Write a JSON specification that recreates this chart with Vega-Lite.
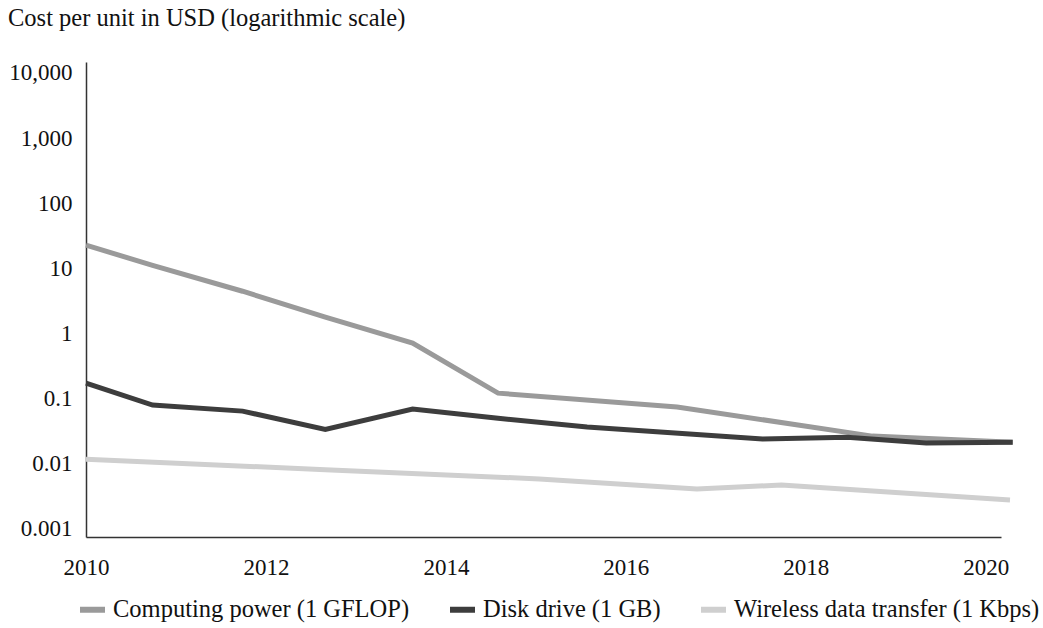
{
  "$schema": "https://vega.github.io/schema/vega-lite/v6.json",
  "width": 915,
  "height": 475,
  "autosize": {"type": "none"},
  "padding": {"left": 86, "top": 62, "right": 42, "bottom": 91},
  "background": "white",
  "title": {
    "text": "Cost per unit in USD (logarithmic scale)",
    "anchor": "start",
    "frame": "group",
    "dx": -78,
    "offset": 30,
    "font": "Liberation Serif",
    "fontSize": 24.5,
    "fontWeight": "normal",
    "color": "#111111"
  },
  "config": {
    "view": {"stroke": null},
    "font": "Liberation Serif"
  },
  "data": {
    "values": [
      {"year": 2010.0, "cost": 22.5, "series": "Computing power (1 GFLOP)"},
      {"year": 2010.74, "cost": 11, "series": "Computing power (1 GFLOP)"},
      {"year": 2011.74, "cost": 4.4, "series": "Computing power (1 GFLOP)"},
      {"year": 2012.66, "cost": 1.76, "series": "Computing power (1 GFLOP)"},
      {"year": 2013.63, "cost": 0.7, "series": "Computing power (1 GFLOP)"},
      {"year": 2014.58, "cost": 0.119, "series": "Computing power (1 GFLOP)"},
      {"year": 2016.57, "cost": 0.073, "series": "Computing power (1 GFLOP)"},
      {"year": 2018.74, "cost": 0.026, "series": "Computing power (1 GFLOP)"},
      {"year": 2020.3, "cost": 0.021, "series": "Computing power (1 GFLOP)"},
      {"year": 2010.0, "cost": 0.17, "series": "Disk drive (1 GB)"},
      {"year": 2010.74, "cost": 0.078, "series": "Disk drive (1 GB)"},
      {"year": 2011.74, "cost": 0.063, "series": "Disk drive (1 GB)"},
      {"year": 2012.66, "cost": 0.033, "series": "Disk drive (1 GB)"},
      {"year": 2013.63, "cost": 0.068, "series": "Disk drive (1 GB)"},
      {"year": 2014.58, "cost": 0.049, "series": "Disk drive (1 GB)"},
      {"year": 2015.57, "cost": 0.036, "series": "Disk drive (1 GB)"},
      {"year": 2017.52, "cost": 0.0234, "series": "Disk drive (1 GB)"},
      {"year": 2018.46, "cost": 0.025, "series": "Disk drive (1 GB)"},
      {"year": 2019.34, "cost": 0.0204, "series": "Disk drive (1 GB)"},
      {"year": 2020.3, "cost": 0.021, "series": "Disk drive (1 GB)"},
      {"year": 2010.0, "cost": 0.0115, "series": "Wireless data transfer (1 Kbps)"},
      {"year": 2012.66, "cost": 0.0079, "series": "Wireless data transfer (1 Kbps)"},
      {"year": 2015.04, "cost": 0.0057, "series": "Wireless data transfer (1 Kbps)"},
      {"year": 2016.79, "cost": 0.004, "series": "Wireless data transfer (1 Kbps)"},
      {"year": 2017.73, "cost": 0.0046, "series": "Wireless data transfer (1 Kbps)"},
      {"year": 2020.27, "cost": 0.0027, "series": "Wireless data transfer (1 Kbps)"}
    ]
  },
  "mark": {"type": "line", "strokeWidth": 5, "clip": false},
  "encoding": {
    "x": {
      "field": "year",
      "type": "quantitative",
      "scale": {"domain": [2010, 2020.17], "nice": false, "zero": false},
      "axis": {
        "title": null,
        "values": [2010, 2012, 2014, 2016, 2018, 2020],
        "format": "d",
        "grid": false,
        "ticks": false,
        "labelPadding": 19,
        "labelFont": "Liberation Serif",
        "labelFontSize": 23,
        "labelColor": "#111111",
        "domainColor": "#333333",
        "domainWidth": 1.5,
        "labelFlush": false
      }
    },
    "y": {
      "field": "cost",
      "type": "quantitative",
      "scale": {"type": "log", "domain": [0.00073, 14760], "nice": false},
      "axis": {
        "title": null,
        "values": [0.001, 0.01, 0.1, 1, 10, 100, 1000, 10000],
        "format": ",",
        "grid": false,
        "ticks": false,
        "labelPadding": 14,
        "labelFont": "Liberation Serif",
        "labelFontSize": 23,
        "labelColor": "#111111",
        "domainColor": "#333333",
        "domainWidth": 1.5
      }
    },
    "color": {
      "field": "series",
      "type": "nominal",
      "scale": {
        "domain": ["Computing power (1 GFLOP)", "Disk drive (1 GB)", "Wireless data transfer (1 Kbps)"],
        "range": ["#9a9a9a", "#3d3d3d", "#cfcfcf"]
      },
      "legend": {
        "title": null,
        "orient": "none",
        "direction": "horizontal",
        "legendX": -9,
        "legendY": 532,
        "symbolType": "stroke",
        "symbolSize": 625,
        "symbolStrokeWidth": 6,
        "labelFont": "Liberation Serif",
        "labelFontSize": 24.5,
        "labelColor": "#111111",
        "labelOffset": 5,
        "columnPadding": 28,
        "labelLimit": 500
      }
    }
  }
}
